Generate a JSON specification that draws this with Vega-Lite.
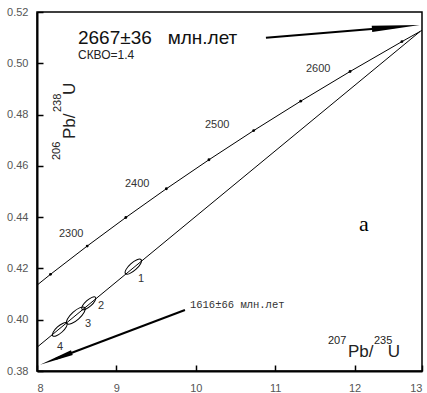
{
  "$schema": "https://vega.github.io/schema/vega-lite/v6.json",
  "width": 385,
  "height": 359,
  "autosize": "none",
  "padding": {"left": 37, "top": 12, "right": 5, "bottom": 22},
  "background": "white",
  "config": {
    "view": {"stroke": "#000", "strokeWidth": 1.5},
    "font": "Liberation Sans",
    "axis": {
      "grid": false,
      "domainColor": "#000",
      "domainWidth": 2,
      "tickColor": "#000",
      "tickWidth": 1.5,
      "tickSize": -6,
      "labelFont": "Liberation Sans",
      "labelFontSize": 11,
      "labelColor": "#555"
    }
  },
  "datasets": {
    "concordia": [
      {"t": 2200, "x": 7.72901, "y": 0.40674},
      {"t": 2250, "x": 8.16977, "y": 0.41769},
      {"t": 2300, "x": 8.63261, "y": 0.42873},
      {"t": 2350, "x": 9.11883, "y": 0.43986},
      {"t": 2400, "x": 9.62956, "y": 0.45107},
      {"t": 2450, "x": 10.16611, "y": 0.46237},
      {"t": 2500, "x": 10.7297, "y": 0.47376},
      {"t": 2550, "x": 11.32178, "y": 0.48523},
      {"t": 2600, "x": 11.94371, "y": 0.49679},
      {"t": 2650, "x": 12.59706, "y": 0.50845},
      {"t": 2667, "x": 12.82662, "y": 0.51243},
      {"t": 2669, "x": 12.85389, "y": 0.5129}
    ],
    "discordia": [
      {"x": 3.9112, "y": 0.2849},
      {"x": 12.82662, "y": 0.51243}
    ],
    "spots": [
      {"spot": 1, "x": 9.213, "y": 0.4207, "err": 0.0983},
      {"spot": 2, "x": 8.652, "y": 0.4064, "err": 0.0842},
      {"spot": 3, "x": 8.489, "y": 0.4016, "err": 0.1123},
      {"spot": 4, "x": 8.287, "y": 0.3962, "err": 0.0889}
    ],
    "spotLabels": [
      {"x": 9.272, "y": 0.4147, "label": "1"},
      {"x": 8.768, "y": 0.40417, "label": "2"},
      {"x": 8.605, "y": 0.39714, "label": "3"},
      {"x": 8.252, "y": 0.38818, "label": "4"}
    ],
    "ageLabels": [
      {"x": 8.277, "y": 0.43225, "label": "2300"},
      {"x": 9.108, "y": 0.45175, "label": "2400"},
      {"x": 10.116, "y": 0.47464, "label": "2500"},
      {"x": 11.388, "y": 0.49672, "label": "2600"}
    ],
    "upperAge": [{"x": 8.516, "y": 0.50752, "label": "2667±36\u00a0\u00a0\u00a0млн.лет"}],
    "mswd": [{"x": 8.516, "y": 0.50155, "label": "СКВО=1.4"}],
    "lowerAge": [{"x": 9.927, "y": 0.40456, "label": "1616±66 млн.лет"}],
    "panel": [{"x": 12.055, "y": 0.43459, "label": "a"}],
    "xTitleSup": [
      {"x": 11.665, "y": 0.39051, "label": "207"},
      {"x": 12.244, "y": 0.39051, "label": "235"}
    ],
    "xTitleMain": [
      {"x": 11.917, "y": 0.38533, "label": "Pb/"},
      {"x": 12.42, "y": 0.38533, "label": "U"}
    ],
    "yTitleSup": [
      {"x": 8.29, "y": 0.46228, "label": "206"},
      {"x": 8.302, "y": 0.481, "label": "238"}
    ],
    "yTitleMain": [
      {"x": 8.479, "y": 0.47047, "label": "Pb/"},
      {"x": 8.479, "y": 0.48763, "label": "U"}
    ],
    "arrows": [
      {"x": 10.884, "y": 0.50998, "x2": 12.521, "y2": 0.51415},
      {"x": 9.864, "y": 0.40378, "x2": 8.239, "y2": 0.38478}
    ],
    "upperHead": [{"x": 12.521, "y": 0.51415}],
    "lowerHead": [{"x": 8.239, "y": 0.38478}]
  },
  "encoding": {
    "x": {
      "field": "x",
      "type": "quantitative",
      "scale": {"domain": [8, 12.85], "nice": false, "zero": false},
      "axis": {
        "values": [8, 9, 10, 11, 12, 12.85],
        "labelExpr": "datum.value > 12.5 ? '13' : format(datum.value, 'd')",
        "labelPadding": 17,
        "title": null
      }
    },
    "y": {
      "field": "y",
      "type": "quantitative",
      "scale": {"domain": [0.38, 0.52], "nice": false, "zero": false},
      "axis": {
        "values": [0.38, 0.4, 0.42, 0.44, 0.46, 0.48, 0.5, 0.52],
        "format": ".2f",
        "labelPadding": 15,
        "title": null
      }
    }
  },
  "layer": [
    {"data": {"name": "discordia"}, "mark": {"type": "line", "color": "#000", "strokeWidth": 1, "clip": true}},
    {"data": {"name": "concordia"}, "mark": {"type": "line", "color": "#000", "strokeWidth": 1, "clip": true}},
    {
      "data": {"name": "concordia"},
      "transform": [{"filter": "datum.t % 50 == 0"}],
      "mark": {"type": "point", "filled": true, "color": "#000", "size": 8, "opacity": 1, "clip": true}
    },
    {
      "data": {"name": "spots"},
      "mark": {"type": "point", "shape": "M -1 0 A 1 0.36 0 1 1 1 0 A 1 0.36 0 1 1 -1 0 Z", "filled": false, "stroke": "#000", "strokeWidth": 1, "angle": 318, "opacity": 1},
      "encoding": {
        "size": {"field": "err", "type": "quantitative", "scale": {"type": "pow", "exponent": 2, "domain": [0, 0.1], "range": [0, 457]}, "legend": null}
      }
    },
    {
      "data": {"name": "spotLabels"},
      "mark": {"type": "text", "align": "left", "baseline": "alphabetic", "fontSize": 11, "fill": "#333"},
      "encoding": {"text": {"field": "label", "type": "nominal"}}
    },
    {
      "data": {"name": "ageLabels"},
      "mark": {"type": "text", "align": "left", "baseline": "alphabetic", "fontSize": 11, "fill": "#333"},
      "encoding": {"text": {"field": "label", "type": "nominal"}}
    },
    {
      "data": {"name": "upperAge"},
      "mark": {"type": "text", "align": "left", "baseline": "alphabetic", "fontSize": 19, "fill": "#111"},
      "encoding": {"text": {"field": "label", "type": "nominal"}}
    },
    {
      "data": {"name": "mswd"},
      "mark": {"type": "text", "align": "left", "baseline": "alphabetic", "fontSize": 12, "fill": "#222"},
      "encoding": {"text": {"field": "label", "type": "nominal"}}
    },
    {
      "data": {"name": "lowerAge"},
      "mark": {"type": "text", "align": "left", "baseline": "alphabetic", "fontSize": 10.5, "font": "Liberation Mono", "fill": "#333"},
      "encoding": {"text": {"field": "label", "type": "nominal"}}
    },
    {
      "data": {"name": "panel"},
      "mark": {"type": "text", "align": "left", "baseline": "alphabetic", "fontSize": 22, "font": "Liberation Serif", "fill": "#000"},
      "encoding": {"text": {"field": "label", "type": "nominal"}}
    },
    {
      "data": {"name": "xTitleSup"},
      "mark": {"type": "text", "align": "left", "baseline": "alphabetic", "fontSize": 11, "fill": "#222"},
      "encoding": {"text": {"field": "label", "type": "nominal"}}
    },
    {
      "data": {"name": "xTitleMain"},
      "mark": {"type": "text", "align": "left", "baseline": "alphabetic", "fontSize": 17, "fill": "#222"},
      "encoding": {"text": {"field": "label", "type": "nominal"}}
    },
    {
      "data": {"name": "yTitleSup"},
      "mark": {"type": "text", "align": "left", "baseline": "alphabetic", "fontSize": 11, "angle": 270, "fill": "#222"},
      "encoding": {"text": {"field": "label", "type": "nominal"}}
    },
    {
      "data": {"name": "yTitleMain"},
      "mark": {"type": "text", "align": "left", "baseline": "alphabetic", "fontSize": 17, "angle": 270, "fill": "#222"},
      "encoding": {"text": {"field": "label", "type": "nominal"}}
    },
    {
      "data": {"name": "arrows"},
      "mark": {"type": "rule", "color": "#000", "strokeWidth": 2},
      "encoding": {"x2": {"field": "x2"}, "y2": {"field": "y2"}}
    },
    {
      "data": {"name": "upperHead"},
      "mark": {"type": "point", "shape": "M -1 -0.13 L 1 0 L -1 0.13 Z", "filled": true, "color": "#000", "size": 2304, "angle": 355.3, "opacity": 1}
    },
    {
      "data": {"name": "lowerHead"},
      "mark": {"type": "point", "shape": "M -1 -0.15 L 1 0 L -1 0.15 Z", "filled": true, "color": "#000", "size": 1156, "angle": 159.3, "opacity": 1}
    }
  ]
}
